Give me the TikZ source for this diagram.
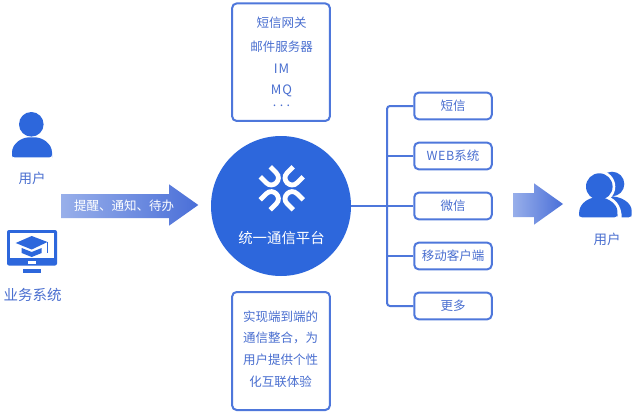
\documentclass[tikz,border=0pt]{standalone}
\usepackage{fontspec}
\setmainfont{Noto Sans CJK SC}
\definecolor{mainblue}{HTML}{2D67DC}
\definecolor{linec}{HTML}{4E77DB}
\definecolor{textc}{HTML}{4A6FD0}
\definecolor{arrowa}{HTML}{98AFEA}
\definecolor{arrowb}{HTML}{4A6FD8}
\tikzset{
  roundbox/.style={draw=linec,line width=2pt,rounded corners=4.5pt,fill=white,inner sep=0pt,align=center,text=textc,font=\fontsize{12.5}{12.5}\selectfont},
  chan/.style={roundbox,minimum width=77.5pt,minimum height=26.7pt},
  lbl/.style={text=textc,font=\fontsize{12.5}{12.5}\selectfont,inner sep=0pt},
  biglbl/.style={lbl,font=\fontsize{13.5}{13.5}\selectfont},
  wire/.style={draw=linec,line width=2pt},
  logo/.style={draw=white,line width=4.8pt,line cap=butt}
}
\begin{document}
\begin{tikzpicture}[x=1pt,y=-1pt]
\useasboundingbox (0,0) rectangle (634,412);
\fill[white] (0,0) rectangle (634,412);
% top box
\node[roundbox,minimum width=97.7pt,minimum height=117.5pt] (top) at (281,62.2) {};
\node[lbl] (t1) at (281.5,23) {短信网关};
\node[lbl] (t2) at (281.5,47) {邮件服务器};
\node[lbl,font=\fontsize{13}{13}\selectfont\addfontfeature{LetterSpace=8}] (t3) at (281.5,68.5) {IM};
\node[lbl,font=\fontsize{13}{13}\selectfont\addfontfeature{LetterSpace=8}] (t4) at (281.5,91) {MQ};
\node[lbl] (t5) at (281.5,106) {.\hspace{3.5pt}.\hspace{3.5pt}.};
% bottom box
\node[roundbox,minimum width=97.7pt,minimum height=118pt] (bot) at (281,351) {};
\node[lbl] (b1) at (280.5,316.5) {实现端到端的};
\node[lbl] (b2) at (280.5,338) {通信整合，为};
\node[lbl] (b3) at (280.5,360) {用户提供个性};
\node[lbl] (b4) at (280.5,382) {化互联体验};
% circle
\node[circle,fill=mainblue,minimum size=140pt,inner sep=0pt] (hub) at (281,206) {};
\node[text=white,font=\fontsize{14.4}{14.4}\selectfont,inner sep=0pt] (hubt) at (281.5,238) {统一通信平台};
% logo
\begin{scope}[shift={(281.7,188.3)}]
 \foreach \r in {0,90,180,270}{
  \begin{scope}[rotate=\r]
   \draw[logo] (-21.5,-11.5) -- (-15.5,-5.5) .. controls (-8.8,1.2) and (1.2,-8.8) .. (-5.5,-15.5) -- (-11.5,-21.5);
  \end{scope}}
\end{scope}
% channels
\node[chan] (c1) at (453,106) {短信};
\node[chan] (c2) at (453,156) {\addfontfeature{LetterSpace=4}WEB\addfontfeature{LetterSpace=0}系统};
\node[chan] (c3) at (453,206) {微信};
\node[chan] (c4) at (453,256) {移动客户端};
\node[chan] (c5) at (453,306) {更多};
\coordinate (trunk) at (387,206);
\draw[wire] (hub.east) -- (c3.west);
\draw[wire,rounded corners=3pt] (c1.west) -| (trunk) |- (c5.west);
\draw[wire] (trunk |- c2.west) -- (c2.west);
\draw[wire] (trunk |- c4.west) -- (c4.west);
% arrows
\shade[left color=arrowa,right color=arrowb] (61,194) -- (169,194) -- (169,184.3) -- (198.3,205) -- (169,225.7) -- (169,218) -- (61,218) -- cycle;
\node[text=white,font=\fontsize{12.5}{12.5}\selectfont,inner sep=0pt] (al) at (124,206) {提醒、通知、待办};
\shade[left color=arrowa,right color=arrowb] (513,193) -- (534,193) -- (534,183.3) -- (563,204) -- (534,224.7) -- (534,217) -- (513,217) -- cycle;
% user left
\fill[mainblue] (31.3,124.3) circle (12.3);
\fill[mainblue,rounded corners=2.5pt] (12,157.3) -- (12,155) .. controls (12,144) and (21,137.3) .. (32,137.3) .. controls (43,137.3) and (52,144) .. (52,155) -- (52,157.3) -- cycle;
\node[biglbl] (u1) at (32,178) {用户};
% monitor
\fill[mainblue,rounded corners=2pt] (7,230) rectangle (57,265.5);
\fill[white] (10,232.8) rectangle (54,258);
\fill[white] (28,261) rectangle (36,264);
\fill[mainblue] (23,268.5) rectangle (41,273);
\fill[mainblue] (15.7,243) -- (31.7,236) -- (47.5,242) -- (31.7,249.5) -- cycle;
\fill[mainblue] (21.7,248) -- (31.7,252) -- (41.7,248) -- (41.7,253) -- (31.7,257) -- (21.7,253) -- cycle;
\draw[mainblue,line width=0.8pt] (47,242) -- (47,253);
\node[biglbl,font=\fontsize{14.5}{14.5}\selectfont] (u2) at (32.5,295) {业务系统};
% users right
\fill[mainblue] (612,184) circle (12.3);
\fill[mainblue,rounded corners=3pt] (605,217.3) -- (605,196) .. controls (622,196) and (631.7,203) .. (631.7,214) -- (631.7,217.3) -- cycle;
\fill[white] (599.3,186.6) circle (16);
\fill[white] (575,220) -- (576,212) .. controls (579,200) and (588,194.5) .. (598,194.5) .. controls (610,194.5) and (620,201) .. (621.5,214) -- (621.5,220) -- cycle;
\fill[mainblue] (599.3,186.6) circle (13.3);
\fill[mainblue,rounded corners=3pt] (579,217.3) -- (579,214) .. controls (580,204) and (588,197.7) .. (598,197.7) .. controls (608,197.7) and (617,204) .. (617.5,214) -- (617.5,217.3) -- cycle;
\node[biglbl] (u3) at (607,239) {用户};
\end{tikzpicture}
\end{document}
